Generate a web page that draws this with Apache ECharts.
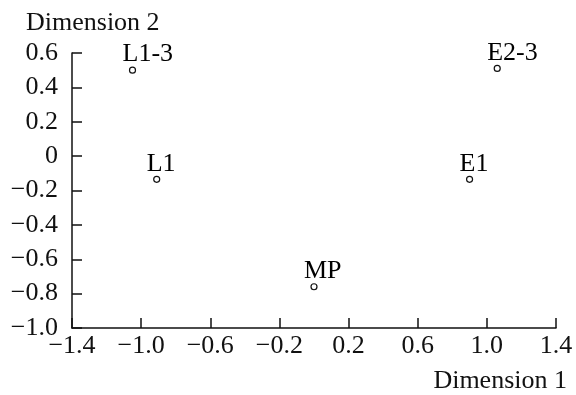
<!DOCTYPE html>
<html>
<head>
<meta charset="utf-8">
<script src="https://cdn.jsdelivr.net/npm/echarts@6/dist/echarts.min.js"></script>
<style>
  html, body { margin: 0; padding: 0; background: #fff; }
  #chart { width: 576px; height: 395px; }
</style>
</head>
<body>
<div id="chart"></div>
<script>
// point names and coordinates
var names = ['L1-3', 'L1', 'MP', 'E1', 'E2-3'];
var dim1 = [-1.05, -0.91, 0.0, 0.9, 1.06];
var dim2 = [0.5, -0.135, -0.76, -0.135, 0.51];

var fontName = '"Liberation Serif", "DejaVu Serif", serif';
var ink = '#111';
var fs = 26;

function fmt(v) {
    if (Math.abs(v) < 1e-9) return '0';
    var s = v.toFixed(1);
    return s.replace('-', '\u2212');
}

var chart = echarts.init(document.getElementById('chart'));

var pts = [];
for (var i = 0; i < names.length; i++) {
    pts.push({ name: names[i], value: [dim1[i], dim2[i]] });
}

var option = {
    animation: false,
    backgroundColor: '#fff',
    grid: { left: 72, right: 20, top: 53, bottom: 67 },
    xAxis: {
        type: 'value',
        min: -1.4,
        max: 1.4,
        interval: 0.4,
        name: 'Dimension 1',
        nameLocation: 'end',
        nameGap: 11,
        nameTextStyle: {
            fontFamily: fontName, fontSize: fs, color: ink,
            align: 'right', verticalAlign: 'top', padding: [40, 0, 0, 0]
        },
        axisLine: { show: true, onZero: false, lineStyle: { color: ink, width: 1.5 } },
        axisTick: { show: true, inside: true, length: 10, lineStyle: { color: ink, width: 1.5 } },
        axisLabel: {
            fontFamily: fontName, fontSize: fs, color: ink, margin: 5,
            formatter: fmt
        },
        splitLine: { show: false }
    },
    yAxis: {
        type: 'value',
        min: -1.0,
        max: 0.6,
        interval: 0.2,
        name: 'Dimension 2',
        nameLocation: 'end',
        nameGap: 17,
        nameTextStyle: {
            fontFamily: fontName, fontSize: fs, color: ink,
            align: 'left', padding: [0, 0, 0, -46]
        },
        axisLine: { show: true, onZero: false, lineStyle: { color: ink, width: 1.5 } },
        axisTick: { show: true, inside: true, length: 10, lineStyle: { color: ink, width: 1.5 } },
        axisLabel: {
            fontFamily: fontName, fontSize: fs, color: ink, margin: 14,
            formatter: fmt
        },
        splitLine: { show: false }
    },
    series: [{
        type: 'scatter',
        data: pts,
        symbol: 'circle',
        symbolSize: 6,
        itemStyle: { color: '#fff', borderColor: ink, borderWidth: 1.2, opacity: 1 },
        label: {
            show: true,
            position: 'top',
            align: 'left',
            offset: [-10, 6],
            fontFamily: fontName,
            fontSize: fs,
            color: '#000',
            opacity: 1,
            formatter: '{b}'
        }
    }]
};

chart.setOption(option);
</script>
</body>
</html>
